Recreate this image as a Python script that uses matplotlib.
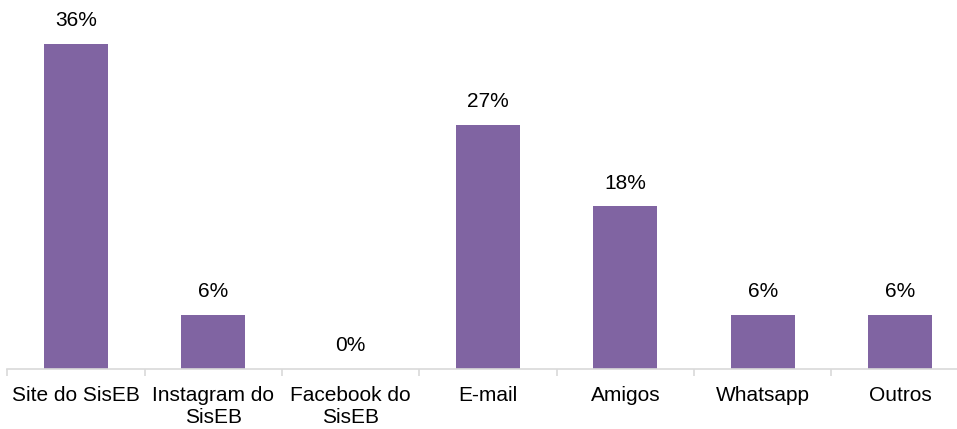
import matplotlib
matplotlib.use("Agg")
import matplotlib.pyplot as plt
import numpy as np

categories = ["Site do SisEB", "Instagram do\nSisEB", "Facebook do\nSisEB", "E-mail", "Amigos", "Whatsapp", "Outros"]
values = [36, 6, 0, 27, 18, 6, 6]
labels = ["36%", "6%", "0%", "27%", "18%", "6%", "6%"]

plt.rcParams['font.family'] = ['Liberation Sans', 'DejaVu Sans']

W, H = 957, 429
fig = plt.figure(figsize=(W/100, H/100), dpi=100)
x0 = 7.3
ax = fig.add_axes([x0/W, 60/H, (W - x0)/W, 369/H])

x = np.arange(len(categories))
ax.bar(x, values, width=0.466, color="#8064A2", zorder=2)

for xi, v, lab in zip(x, values, labels):
    ax.annotate(lab, (xi, v), xytext=(0, 10), textcoords="offset points",
                ha="center", va="bottom", fontsize=15, color="black")

for s in ["top", "right", "left"]:
    ax.spines[s].set_visible(False)
ax.spines["bottom"].set_color("#D9D9D9")
ax.spines["bottom"].set_linewidth(1.2)

ax.set_yticks([])
ax.set_xticks(x)
ax.set_xticklabels(categories, fontsize=15, linespacing=1.2)
ax.tick_params(axis="x", which="major", length=0, pad=12)
ax.set_xticks(np.arange(-0.5, len(categories) + 0.5, 1), minor=True)
ax.tick_params(axis="x", which="minor", length=5, width=1.2, color="#D9D9D9", direction="out")

ax.set_xlim(-0.5, (W - 76) / 137.33)
ax.set_ylim(0, 40.86)

fig.savefig("out.png", dpi=100)
